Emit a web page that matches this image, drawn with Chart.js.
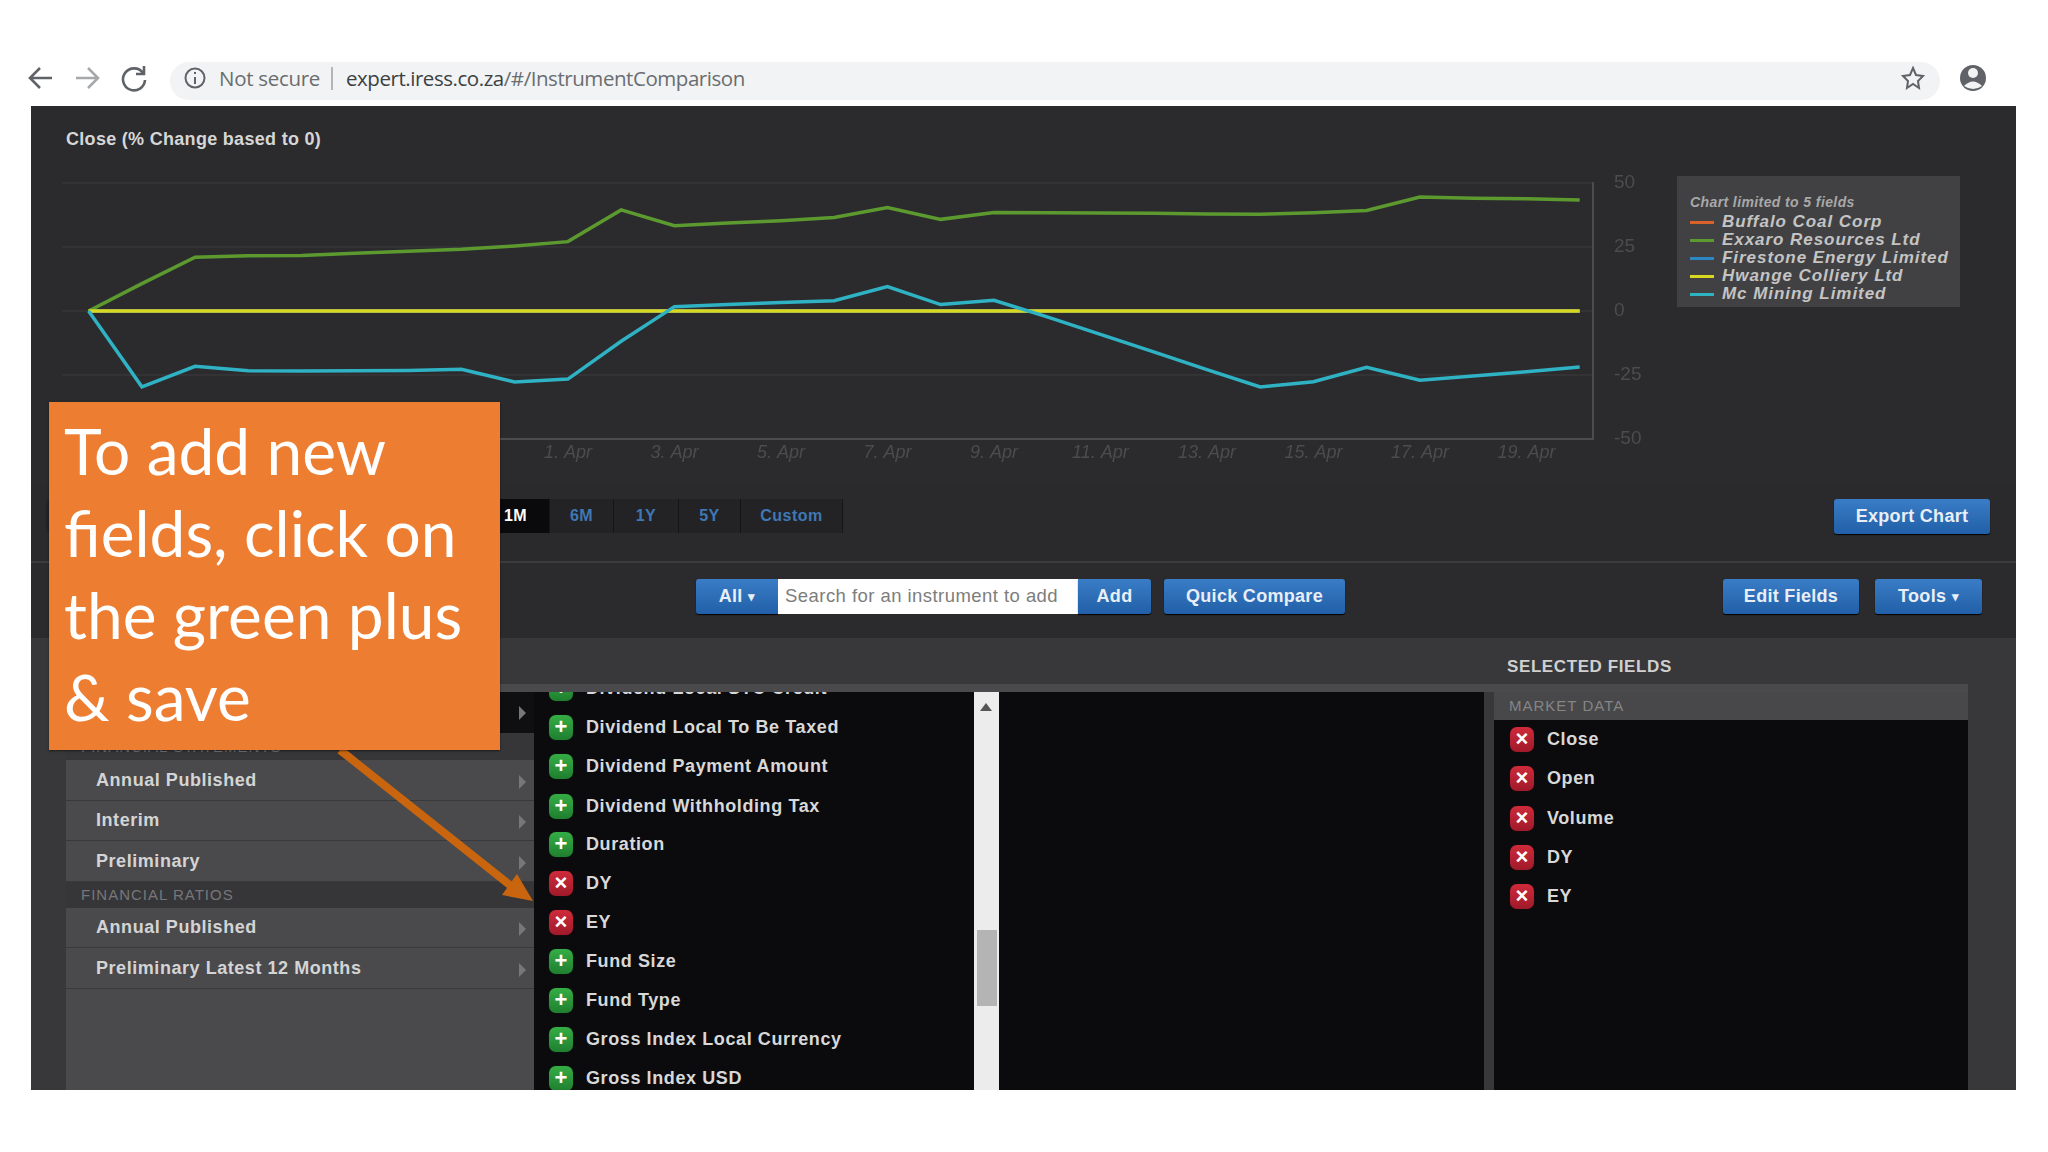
<!DOCTYPE html>
<html>
<head>
<meta charset="utf-8">
<title>Instrument Comparison</title>
<script src="https://cdn.jsdelivr.net/npm/chart.js@4"></script>
<style>
  html, body { margin: 0; padding: 0; width: 2048px; height: 1152px; background: #fff; overflow: hidden; font-family: "Liberation Sans", Arial, sans-serif; }
  .abs { position: absolute; box-sizing: border-box; white-space: nowrap; }
  .btn { background: linear-gradient(#3a7cc6, #2160a8); border-radius: 3px; color: #e8eef6; font-weight: bold; font-size: 18px; letter-spacing: .3px; display: flex; align-items: center; justify-content: center; box-shadow: 0 1px 1px #000; }
  .seg { top: 499px; height: 34px; color: #3f78b4; font-weight: bold; font-size: 16px; letter-spacing: .5px; display: flex; align-items: center; justify-content: center; background: #232325; border-right: 1px solid #151517; }
  .nav { left: 66px; width: 468px; height: 40px; background: #4a4a4c; border-bottom: 1px solid #39393b; color: #d4d4d4; font-weight: bold; font-size: 18px; letter-spacing: .55px; padding-left: 30px; display: flex; align-items: center; }
  .chev { position: absolute; right: 8px; top: 14px; width: 0; height: 0; border-left: 7px solid #77777a; border-top: 7px solid transparent; border-bottom: 7px solid transparent; }
  .band { left: 66px; width: 468px; background: #363638; color: #77777a; font-size: 15px; letter-spacing: 1px; padding-left: 15px; display: flex; align-items: center; }
  .ico { width: 24px; height: 25px; border-radius: 7px; color: #fff; font-weight: bold; font-size: 22px; line-height: 24px; text-align: center; }
  .ico.add { background: linear-gradient(#35ad45, #1f7f30); box-shadow: 0 0 1px #0d4a18; }
  .ico.del { background: linear-gradient(#cf2a3a, #a01a2a); box-shadow: 0 0 1px #5a0d16; }
  .item { color: #d8d8d8; font-weight: bold; font-size: 18px; letter-spacing: .6px; line-height: 24px; height: 24px; left: 37px; top: 0; }
  .leg { left: 1722px; color: #c4c4c4; font-weight: bold; font-style: italic; font-size: 17px; letter-spacing: .95px; line-height: 18px; }
</style>
</head>
<body>

<!-- browser bar -->
<div class="abs" style="left:170px;top:62px;width:1770px;height:38px;border-radius:19px;background:#f1f3f4"></div>
<svg class="abs" style="left:0;top:0" width="2048" height="110" fill="none" stroke-width="2.6">
  <path d="M52 78H31M40 68L30 78L40 88" stroke="#5f6368"/>
  <path d="M76 78H97M88 68L98 78L88 88" stroke="#a6a9ac"/>
  <path d="M143 73A11 11 0 1 0 145 80M144 66V74H136" stroke="#5f6368"/>
  <circle cx="195" cy="78" r="9.5" stroke="#5f6368" stroke-width="2"/>
  <path d="M195 77V84M195 72V74" stroke="#5f6368" stroke-width="2"/>
  <path d="M332 67V90" stroke="#9a9a9a" stroke-width="1.4"/>
  <path d="M1913 68L1916 75L1923 76L1918 81L1919 88L1913 84L1907 88L1908 81L1903 76L1910 75Z" stroke="#5f6368" stroke-width="2"/>
  <circle cx="1973" cy="78" r="13" fill="#5f6368" stroke="none"/>
  <circle cx="1973" cy="73" r="5" fill="#f1f3f4" stroke="none"/>
  <path d="M1964 86Q1973 77 1982 86Q1973 92 1964 86Z" fill="#f1f3f4" stroke="none"/>
</svg>
<div class="abs" style="left:219px;top:63px;font:20.5px 'Open Sans',sans-serif;line-height:30px;color:#6a6d70;letter-spacing:-.3px">Not secure</div>
<div class="abs" style="left:346px;top:63px;font:20.5px 'Open Sans',sans-serif;line-height:30px;color:#3c4043;letter-spacing:-.45px">expert.iress.co.za<span style="color:#6a6d70">/#/InstrumentComparison</span></div>

<!-- dark app panel -->
<div class="abs" style="left:31px;top:106px;width:1985px;height:984px;background:#2b2b2d"></div>
<div class="abs" style="left:31px;top:486px;width:1985px;height:76px;background:#2a2a2c"></div>
<div class="abs" style="left:31px;top:561px;width:1985px;height:2px;background:#3c3c3e"></div>
<div class="abs" style="left:31px;top:638px;width:1985px;height:452px;background:#38383a"></div>
<div class="abs" style="left:500px;top:684px;width:1468px;height:8px;background:#4a4a4c"></div>

<div class="abs" style="left:66px;top:128px;color:#d6d6d6;font-weight:bold;font-size:18px;letter-spacing:.3px;line-height:22px">Close (% Change based to 0)</div>

<canvas id="chart-close" class="abs" style="left:32px;top:106px" width="1984" height="380"></canvas>

<div id="legend-box" class="abs" style="left:1677px;top:176px;width:283px;height:131px;background:#414143"></div>

<!-- range buttons -->
<div class="abs" style="left:46px;top:499px;width:797px;height:34px;background:#232325;border-radius:5px"></div>
<div id="range-row"></div>
<div class="abs btn" style="left:1834px;top:499px;width:156px;height:35px">Export Chart</div>

<!-- search row -->
<div class="abs btn" style="left:696px;top:579px;width:82px;height:35px;border-radius:3px 0 0 3px">All&nbsp;<span style="font-size:13px">&#9662;</span></div>
<div class="abs" style="left:778px;top:579px;width:300px;height:35px;background:#fff;color:#7d7d7d;font-size:18.5px;line-height:34px;padding-left:7px;letter-spacing:.45px">Search for an instrument to add</div>
<div class="abs btn" style="left:1078px;top:579px;width:73px;height:35px;border-radius:0 3px 3px 0">Add</div>
<div class="abs btn" style="left:1164px;top:579px;width:181px;height:35px">Quick Compare</div>
<div class="abs btn" style="left:1723px;top:579px;width:136px;height:35px">Edit Fields</div>
<div class="abs btn" style="left:1875px;top:579px;width:107px;height:35px">Tools&nbsp;<span style="font-size:13px">&#9662;</span></div>

<div class="abs" style="left:1507px;top:656px;color:#d0d0d0;font-weight:bold;font-size:17px;letter-spacing:.6px;line-height:22px">SELECTED FIELDS</div>

<!-- left nav -->
<div class="abs" style="left:66px;top:692px;width:468px;height:398px;background:#4a4a4c"></div>
<div class="abs" style="left:66px;top:692px;width:468px;height:41px;background:#0f0f11"></div>
<div class="abs" style="left:519px;top:706px;width:0;height:0;border-left:7px solid #77777a;border-top:7px solid transparent;border-bottom:7px solid transparent"></div>
<div class="abs band" style="top:733px;height:27px">FINANCIAL STATEMENTS</div>
<div class="abs band" style="top:881px;height:27px">FINANCIAL RATIOS</div>
<div id="nav-list"></div>

<!-- fields list -->
<div class="abs" style="left:534px;top:692px;width:440px;height:398px;background:#0b0b0d;overflow:hidden" id="field-list"></div>
<div class="abs" style="left:974px;top:692px;width:25px;height:398px;background:#ececec"></div>
<div class="abs" style="left:980px;top:703px;width:0;height:0;border-bottom:8px solid #555;border-left:6px solid transparent;border-right:6px solid transparent"></div>
<div class="abs" style="left:977px;top:930px;width:20px;height:76px;background:#b4b4b4"></div>
<div class="abs" style="left:999px;top:692px;width:485px;height:398px;background:#0b0b0d"></div>

<!-- selected fields -->
<div class="abs" style="left:1494px;top:692px;width:474px;height:398px;background:#0b0b0d"></div>
<div class="abs" style="left:1494px;top:692px;width:474px;height:28px;background:#48484a;color:#858585;font-size:15px;line-height:28px;padding-left:15px;letter-spacing:1px">MARKET DATA</div>
<div id="selected-list"></div>

<!-- callout -->
<svg class="abs" style="left:0;top:0" width="2048" height="1152">
  <path d="M340 750L516 890" stroke="#c9650f" stroke-width="8"/>
  <path d="M533 901L502 895L517 874Z" fill="#c9650f"/>
</svg>
<div class="abs" style="left:49px;top:402px;width:451px;height:348px;background:#ed7d31;box-shadow:0 1px 2px rgba(0,0,0,.5);color:#fff;font-family:Lato,sans-serif;font-size:64px;line-height:82px;padding:8px 0 0 15px;white-space:normal">To add new fields, click on the green plus &amp; save</div>

<script>
// ---- chart data ----
const dayLabels = ['23. Mar', '24. Mar', '25. Mar', '26. Mar', '27. Mar', '28. Mar', '29. Mar', '30. Mar', '31. Mar', '1. Apr',
  '2. Apr', '3. Apr', '4. Apr', '5. Apr', '6. Apr', '7. Apr', '8. Apr', '9. Apr', '10. Apr', '11. Apr',
  '12. Apr', '13. Apr', '14. Apr', '15. Apr', '16. Apr', '17. Apr', '18. Apr', '19. Apr', '20. Apr'];
const seriesNames = ['Buffalo Coal Corp', 'Exxaro Resources Ltd', 'Firestone Energy Limited', 'Hwange Colliery Ltd', 'Mc Mining Limited'];
const seriesColors = ['#d9622b', '#5c9a30', '#2f86c4', '#d8d820', '#2fb2c4'];
const buffaloCoal = [0, 0, 0, 0, 0, 0, 0, 0, 0, 0, 0, 0, 0, 0, 0, 0, 0, 0, 0, 0, 0, 0, 0, 0, 0, 0, 0, 0, 0];
const exxaro = [0, 10.7, 21, 21.6, 21.7, 22.6, 23.3, 24.1, 25.4, 27.1, 39.5, 33.3, 34.4, 35.3, 36.5, 40.4, 35.8, 38.5, 38.4, 38.3,
  38.2, 37.9, 37.8, 38.4, 39.3, 44.5, 44, 43.8, 43.4];
const firestone = [0, 0, 0, 0, 0, 0, 0, 0, 0, 0, 0, 0, 0, 0, 0, 0, 0, 0, 0, 0, 0, 0, 0, 0, 0, 0, 0, 0, 0];
const hwange = [0, 0, 0, 0, 0, 0, 0, 0, 0, 0, 0, 0, 0, 0, 0, 0, 0, 0, 0, 0, 0, 0, 0, 0, 0, 0, 0, 0, 0];
const mcMining = [0, -29.6, -21.6, -23.3, -23.4, -23.3, -23.2, -22.8, -27.7, -26.6, -11.8, 1.7, 2.5, 3.3, 4, 9.5, 2.5, 4.2, -2.3, -9.1,
  -16, -22.9, -29.7, -27.6, -22, -27, -25.4, -23.7, -21.9];
const yTicks = [50, 25, 0, -25, -50];

// ---- page lists ----
const rangeButtons = ['1M', '6M', '1Y', '5Y', 'Custom'];
const rangeEdges = [482, 550, 614, 679, 741, 843];
const navItems = [['Annual Published', 761], ['Interim', 801], ['Preliminary', 842], ['Annual Published', 908], ['Preliminary Latest 12 Months', 949]];
const fieldNames = ['Dividend Local STC Credit', 'Dividend Local To Be Taxed', 'Dividend Payment Amount', 'Dividend Withholding Tax', 'Duration', 'DY', 'EY',
  'Fund Size', 'Fund Type', 'Gross Index Local Currency', 'Gross Index USD'];
const fieldTops = [688, 727, 766, 806, 844, 883, 922, 961, 1000, 1039, 1078];
const chosenFields = ['DY', 'EY'];
const selectedFields = ['Close', 'Open', 'Volume', 'DY', 'EY'];
const selectedTops = [739, 778, 818, 857, 896];

function icon(on) {
  return on ? `<div class="abs ico del" style="left:0;top:0">&times;</div>`
            : `<div class="abs ico add" style="left:0;top:0">+</div>`;
}

function fieldRow(name, x, y, on) {
  return `<div class="abs" style="left:${x}px;top:${y - 12}px;height:24px;width:400px">${icon(on)}
    <div class="abs item">${name}</div></div>`;
}

document.getElementById('range-row').innerHTML = rangeButtons.map((b, i) => {
  const first = i === 0;
  return `<div class="abs seg" style="left:${rangeEdges[i]}px;width:${rangeEdges[i + 1] - rangeEdges[i]}px;${first ? 'background:#0a0a0c;color:#fff' : ''}">${b}</div>`;
}).join('');

document.getElementById('nav-list').innerHTML = navItems.map(n =>
  `<div class="abs nav" style="top:${n[1]}px">${n[0]}<span class="chev"></span></div>`).join('');

document.getElementById('field-list').innerHTML = fieldNames.map((f, i) =>
  fieldRow(f, 15, fieldTops[i] - 692, chosenFields.includes(f))).join('');

document.getElementById('selected-list').innerHTML = selectedFields.map((f, i) =>
  fieldRow(f, 1510, selectedTops[i], true)).join('');

// legend sits in its own box, same lines as the chart
const legendTops = [222, 240, 258, 276, 294];
let legendHtml = `<div class="abs" style="left:1690px;top:194px;color:#a8a8a8;font-style:italic;font-weight:bold;font-size:14px;letter-spacing:.4px;line-height:16px">Chart limited to 5 fields</div>`;
seriesNames.forEach((name, i) => {
  legendHtml += `<div class="abs" style="left:1690px;top:${legendTops[i] - 1}px;width:24px;height:3px;background:${seriesColors[i]}"></div>
    <div class="abs leg" style="top:${legendTops[i] - 9}px">${name}</div>`;
});
document.getElementById('legend-box').insertAdjacentHTML('afterend', legendHtml);

// ---- chart ----
const seriesValues = [buffaloCoal, exxaro, firestone, hwange, mcMining];
const drawOrder = [0, 2, 1, 3, 4];

new Chart(document.getElementById('chart-close').getContext('2d'), {
  type: 'line',
  data: {
    datasets: seriesNames.map((name, i) => ({
      label: name,
      data: seriesValues[i].map((v, day) => ({ x: day, y: v })),
      borderColor: seriesColors[i],
      borderWidth: 3.5,
      pointRadius: 0,
      tension: 0,
      order: 4 - drawOrder.indexOf(i),
    })),
  },
  options: {
    responsive: false,
    animation: false,
    devicePixelRatio: 1,
    layout: { padding: { left: 30, top: 77, right: 363, bottom: 17 } },
    plugins: { legend: { display: false }, tooltip: { enabled: false } },
    scales: {
      x: {
        type: 'linear',
        min: -0.5,
        max: 28.25,
        afterFit: s => { s.height = 30; s.paddingLeft = 0; s.paddingRight = 0; },
        afterBuildTicks: s => { s.ticks = dayLabels.map((_, i) => ({ value: i })).filter(t => t.value % 2 === 1); },
        grid: { display: false },
        border: { color: '#4c4c4e', width: 2 },
        ticks: {
          color: '#4c4c4e',
          font: { family: 'Liberation Sans', size: 18, style: 'italic' },
          padding: -5,
          maxRotation: 0,
          autoSkip: false,
          callback: v => dayLabels[v],
        },
      },
      y: {
        position: 'right',
        min: -50,
        max: 50,
        afterFit: s => { s.width = 60; s.paddingTop = 0; s.paddingBottom = 0; },
        afterBuildTicks: s => { s.ticks = yTicks.map(v => ({ value: v })); },
        grid: { color: '#333335', lineWidth: 2, drawTicks: false },
        border: { color: '#4c4c4e', width: 2 },
        ticks: {
          color: '#4c4c4e',
          font: { family: 'Liberation Sans', size: 19 },
          padding: 21,
          callback: v => String(v),
        },
      },
    },
  },
});
</script>
</body>
</html>
